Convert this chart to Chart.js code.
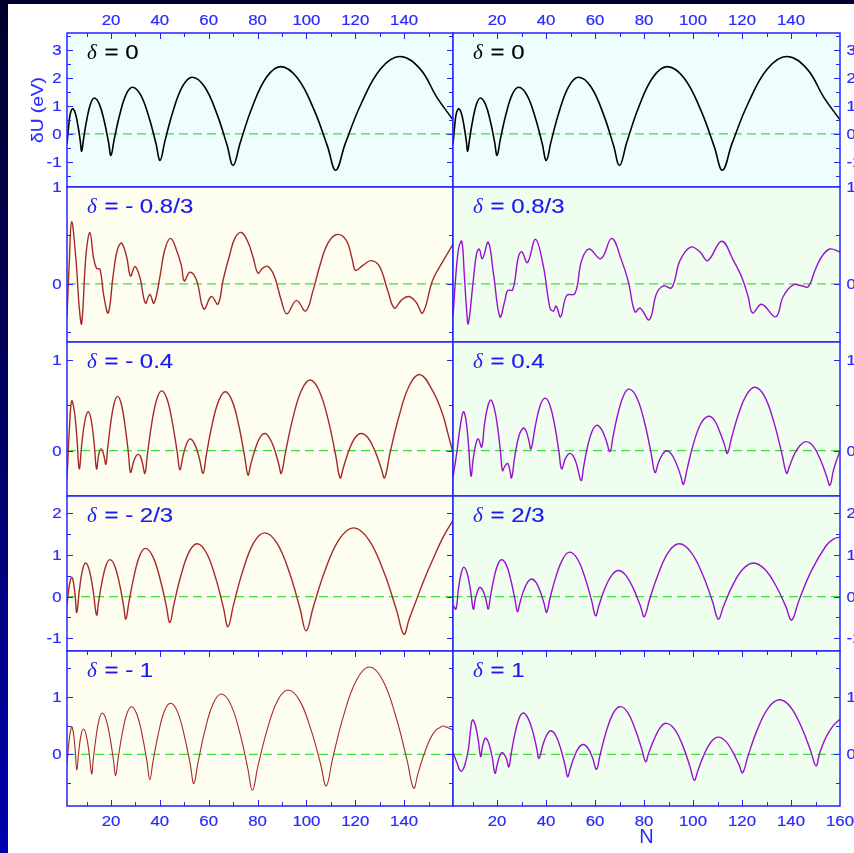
<!DOCTYPE html>
<html>
<head>
<meta charset="utf-8">
<script src="https://cdn.jsdelivr.net/npm/chart.js@4.4.1/dist/chart.umd.min.js"></script>
<style>
html, body { margin:0; padding:0; width:854px; height:853px; overflow:hidden; }
body { position:relative; background: linear-gradient(to bottom, #00002c 0%, #000066 50%, #0000ae 100%); }
#sheet { position:absolute; left:8px; top:4px; width:846px; height:849px; background:#ffffff; }
.layer { position:absolute; left:0; top:0; }
</style>
</head>
<body>
<div id="sheet"></div>
<div id="stage"></div>
<script>
// Shell-correction energy dU (eV) against particle number N, for several deformations delta.

// delta = 0 (same curve in both columns)
const nD0 = [2, 2.6, 3.3, 4.3, 5.41, 6.52, 7.45, 8.0, 8.78, 10.08, 11.64, 13.2, 15.24, 17.28, 18.98, 20.0, 21.32, 23.52, 26.16, 28.8, 32.19, 35.58, 38.4, 40.1, 42.08, 45.38, 49.34, 53.3, 58.31, 63.32, 67.5, 70.0, 72.93, 77.8, 83.65, 89.5, 96.25, 103.0, 108.6, 112.0, 115.9, 122.5, 130.4, 138.3, 146.6, 153.4, 160];
const uD0 = [-0.36, 0.2, 0.7, 0.89, 0.73, 0.27, -0.27, -0.62, -0.18, 0.50, 1.07, 1.28, 1.06, 0.44, -0.29, -0.77, -0.20, 0.66, 1.40, 1.66, 1.38, 0.58, -0.34, -0.95, -0.26, 0.80, 1.70, 2.02, 1.68, 0.72, -0.40, -1.13, -0.31, 0.95, 2.02, 2.40, 2.00, 0.88, -0.44, -1.30, -0.35, 1.09, 2.32, 2.76, 2.31, 1.30, 0.50];

// delta = -0.8/3
const nDm08 = [2, 2.9, 3.9, 5.7, 7.0, 8.0, 9.8, 11.4, 12.8, 14.1, 15.5, 17.1, 18.9, 20.9, 22.6, 24.3, 26.4, 28.0, 29.8, 31.8, 34.1, 35.9, 37.6, 40.0, 42.0, 44.4, 46.8, 48.9, 50.0, 52.3, 55.0, 58.0, 61.1, 63.8, 65.9, 68.6, 70.7, 73.4, 76.1, 78.1, 80.2, 82.0, 84.3, 87.0, 89.7, 92.0, 95.9, 99.7, 102.7, 105.4, 108.8, 112.5, 116.3, 118.7, 120.1, 123.1, 126.5, 129.9, 133.3, 136.0, 138.8, 141.9, 144.9, 147.6, 151.7, 155.8, 160];
const uDm08 = [-0.34, 0.20, 0.64, 0.24, -0.24, -0.41, 0.31, 0.53, 0.28, 0.16, 0.15, -0.13, -0.30, 0.09, 0.35, 0.42, 0.28, 0.08, 0.18, 0.07, -0.20, -0.11, -0.20, 0.07, 0.35, 0.47, 0.35, 0.18, 0.03, 0.12, 0.04, -0.26, -0.13, -0.21, 0.04, 0.30, 0.47, 0.53, 0.43, 0.28, 0.11, 0.16, 0.18, 0.07, -0.17, -0.31, -0.17, -0.28, -0.07, 0.18, 0.42, 0.51, 0.45, 0.26, 0.14, 0.19, 0.24, 0.18, -0.07, -0.25, -0.17, -0.13, -0.19, -0.30, 0.04, 0.23, 0.41];

// delta = 0.8/3
const nDp08 = [2, 3.2, 4.4, 5.6, 6.6, 7.5, 8.25, 10.3, 11.6, 12.7, 14.0, 16.4, 18.5, 21.15, 23.2, 24.3, 26.4, 28.7, 30.1, 32.4, 35.7, 38.9, 41.6, 43.0, 44.1, 45.95, 48.4, 51.8, 54.5, 57.55, 62.4, 66.8, 70.85, 73.6, 76.3, 78.4, 82.15, 85.1, 87.9, 91.3, 94.65, 99.0, 102.8, 106.0, 111.7, 116.5, 119.85, 122.5, 124.3, 128.0, 133.8, 136.8, 140.9, 144.35, 147.0, 149.8, 152.5, 155.9, 160];
const uDp08 = [-0.34, 0.10, 0.38, 0.44, 0.10, -0.25, -0.41, 0.04, 0.31, 0.36, 0.26, 0.43, 0.11, -0.34, -0.17, -0.07, -0.06, 0.28, 0.33, 0.22, 0.46, 0.18, -0.25, -0.28, -0.23, -0.34, -0.12, -0.10, 0.24, 0.36, 0.26, 0.47, 0.24, 0.02, -0.29, -0.25, -0.37, -0.10, -0.02, -0.04, 0.24, 0.38, 0.33, 0.24, 0.44, 0.24, 0.07, -0.13, -0.30, -0.21, -0.34, -0.13, -0.01, -0.02, -0.03, 0.14, 0.28, 0.36, 0.33];

// delta = -0.4
const nDm04 = [2, 3.0, 3.9, 4.99, 6.07, 7.0, 8.11, 9.41, 10.7, 11.89, 13.08, 14.1, 15.0, 15.9, 16.9, 17.9, 18.62, 19.82, 21.26, 22.7, 24.29, 25.88, 27.2, 28.0, 29.28, 30.24, 31.2, 32.01, 32.82, 33.9, 34.92, 36.62, 38.66, 40.7, 42.95, 45.2, 47.08, 48.2, 49.49, 51.0, 52.5, 54.32, 56.14, 57.7, 59.07, 61.34, 64.07, 66.8, 69.59, 72.38, 74.7, 76.1, 77.12, 78.82, 80.86, 82.9, 84.94, 86.98, 88.68, 89.7, 91.49, 94.46, 98.03, 101.6, 105.26, 108.92, 111.97, 113.8, 115.09, 117.24, 119.82, 122.4, 125.28, 128.16, 130.56, 132.0, 134.18, 137.8, 142.15, 146.5, 151.7, 155.8, 158, 160];
const uDm04 = [-0.31, 0.25, 0.55, 0.44, 0.14, -0.20, 0.09, 0.34, 0.43, 0.34, 0.09, -0.20, -0.04, 0.02, -0.03, -0.15, 0.02, 0.29, 0.52, 0.60, 0.51, 0.25, -0.04, -0.24, -0.12, -0.06, -0.04, -0.06, -0.13, -0.25, -0.04, 0.29, 0.56, 0.66, 0.57, 0.30, -0.01, -0.21, -0.06, 0.08, 0.13, 0.07, -0.08, -0.25, -0.04, 0.28, 0.55, 0.65, 0.55, 0.27, -0.06, -0.27, -0.16, 0.00, 0.14, 0.19, 0.14, 0.01, -0.15, -0.25, -0.01, 0.36, 0.67, 0.78, 0.66, 0.34, -0.05, -0.30, -0.19, -0.01, 0.14, 0.19, 0.14, -0.01, -0.19, -0.30, -0.03, 0.37, 0.72, 0.84, 0.66, 0.40, 0.18, -0.02];

// delta = 0.4
const nDp04 = [2.0, 3.5, 4.9, 6.25, 7.35, 8.4, 9.35, 10.25, 11.3, 12.3, 13.7, 14.8, 16.1, 17.4, 18.85, 20.3, 21.5, 22.2, 23.2, 24.3, 25.1, 25.9, 27.3, 29.0, 30.7, 31.8, 32.9, 33.85, 35.6, 37.6, 39.6, 41.6, 43.65, 45.3, 46.35, 48.0, 49.7, 51.1, 52.45, 54.3, 55.25, 56.8, 58.7, 60.6, 62.5, 64.45, 66.1, 67.3, 69.25, 71.65, 74.0, 77.15, 80.3, 82.9, 84.45, 85.9, 87.55, 89.2, 91.25, 93.3, 95.0, 96.05, 97.6, 100.1, 103.2, 106.25, 108.6, 110.9, 112.8, 114.0, 115.7, 118.5, 121.9, 125.3, 129.2, 133.05, 136.25, 138.2, 139.4, 141.35, 143.75, 146.15, 149.05, 152.0, 154.4, 155.9, 157.3, 158.8, 160];
const uDp04 = [-0.29, -0.03, 0.26, 0.43, 0.33, 0.04, -0.28, -0.09, 0.07, 0.13, 0.04, 0.28, 0.48, 0.56, 0.47, 0.24, -0.04, -0.22, -0.17, -0.14, -0.20, -0.30, -0.05, 0.17, 0.25, 0.22, 0.12, 0.02, 0.27, 0.50, 0.58, 0.50, 0.26, -0.02, -0.20, -0.08, -0.03, -0.06, -0.15, -0.33, -0.19, 0.03, 0.21, 0.28, 0.24, 0.12, -0.01, 0.15, 0.40, 0.61, 0.68, 0.58, 0.30, -0.03, -0.24, -0.13, -0.04, 0.00, -0.04, -0.15, -0.28, -0.37, -0.20, 0.07, 0.30, 0.38, 0.34, 0.21, 0.07, -0.03, 0.14, 0.40, 0.62, 0.70, 0.60, 0.31, -0.03, -0.25, -0.17, -0.04, 0.06, 0.10, 0.05, -0.10, -0.27, -0.38, -0.22, -0.09, 0.00];

// delta = -2/3
const nDm23 = [2, 2.9, 3.9, 4.64, 5.37, 6.0, 7.08, 8.34, 9.6, 11.18, 12.75, 14.1, 14.93, 16.3, 17.95, 19.6, 21.55, 23.5, 25.13, 26.1, 27.3, 29.3, 31.7, 34.1, 37.1, 40.1, 42.6, 44.1, 45.78, 48.58, 51.94, 55.3, 59.08, 62.86, 66.01, 67.9, 70.15, 73.9, 78.4, 82.9, 88.0, 93.1, 97.35, 99.9, 102.81, 107.66, 113.48, 119.3, 125.48, 131.66, 136.81, 139.9, 142.0, 144.9, 148.3, 151.7, 155.8, 160];
const uDm23 = [-0.20, 0.25, 0.46, 0.34, 0.00, -0.38, 0.16, 0.63, 0.80, 0.62, 0.12, -0.44, -0.13, 0.34, 0.74, 0.88, 0.73, 0.30, -0.21, -0.54, -0.15, 0.45, 0.97, 1.15, 0.96, 0.42, -0.21, -0.62, -0.18, 0.49, 1.06, 1.26, 1.04, 0.44, -0.26, -0.72, -0.20, 0.60, 1.28, 1.52, 1.27, 0.56, -0.28, -0.82, -0.25, 0.63, 1.37, 1.64, 1.36, 0.59, -0.31, -0.90, -0.55, -0.10, 0.42, 0.88, 1.40, 1.82];

// delta = 2/3
const nDp23 = [2.0, 3.2, 4.15, 5.3, 6.45, 7.8, 9.15, 10.3, 11.1, 12.1, 13.0, 14.2, 15.4, 16.4, 17.2, 18.55, 20.2, 21.85, 23.8, 25.7, 27.3, 28.3, 29.2, 30.6, 32.4, 34.15, 35.95, 37.8, 39.3, 40.2, 41.6, 44.0, 46.85, 49.7, 52.85, 56.0, 58.65, 60.2, 61.6, 63.9, 66.7, 69.45, 72.65, 75.8, 78.5, 80.1, 82.25, 85.8, 90.1, 94.35, 99.15, 103.95, 107.95, 110.3, 112.45, 116.0, 120.3, 124.6, 129.3, 134.0, 137.9, 140.25, 143.2, 148.2, 154.15, 157.25, 160];
const uDp23 = [-0.20, -0.30, 0.15, 0.55, 0.70, 0.55, 0.15, -0.30, -0.06, 0.14, 0.22, 0.14, -0.06, -0.30, -0.03, 0.39, 0.75, 0.88, 0.75, 0.37, -0.07, -0.36, -0.18, 0.10, 0.34, 0.42, 0.33, 0.09, -0.19, -0.38, -0.04, 0.47, 0.90, 1.06, 0.89, 0.43, -0.11, -0.46, -0.21, 0.18, 0.50, 0.62, 0.50, 0.17, -0.22, -0.48, -0.07, 0.54, 1.07, 1.26, 1.06, 0.52, -0.12, -0.54, -0.23, 0.25, 0.65, 0.80, 0.65, 0.24, -0.24, -0.56, -0.10, 0.60, 1.20, 1.37, 1.42];

// delta = -1
const nDm1 = [2, 2.9, 3.9, 4.64, 5.37, 6.0, 6.81, 7.76, 8.7, 9.89, 11.08, 12.1, 12.75, 13.82, 15.11, 16.4, 18.05, 19.7, 21.08, 21.9, 22.88, 24.5, 26.45, 28.4, 30.65, 32.9, 34.78, 35.9, 37.18, 39.3, 41.85, 44.4, 47.25, 50.1, 52.48, 53.9, 55.6, 58.42, 61.81, 65.2, 69.01, 72.82, 75.99, 77.9, 80.09, 83.74, 88.12, 92.5, 97.18, 101.86, 105.76, 108.1, 110.76, 115.18, 120.49, 125.8, 131.23, 136.66, 141.19, 143.9, 145.64, 148.54, 152.02, 155.5, 157.5, 160];
const uDm1 = [-0.16, 0.25, 0.48, 0.37, 0.07, -0.27, 0.05, 0.34, 0.44, 0.33, 0.01, -0.34, -0.09, 0.28, 0.60, 0.72, 0.60, 0.27, -0.12, -0.37, -0.09, 0.34, 0.70, 0.83, 0.69, 0.31, -0.14, -0.44, -0.13, 0.34, 0.75, 0.89, 0.74, 0.31, -0.18, -0.51, -0.15, 0.41, 0.88, 1.05, 0.87, 0.36, -0.24, -0.63, -0.22, 0.40, 0.93, 1.12, 0.94, 0.43, -0.16, -0.55, -0.07, 0.67, 1.29, 1.52, 1.29, 0.65, -0.10, -0.59, -0.34, 0.05, 0.37, 0.49, 0.47, 0.42];

// delta = 1
const nDp1 = [2.0, 3.8, 4.7, 5.6, 6.75, 8.25, 9.15, 9.95, 11.1, 12.3, 13.3, 14.1, 15.3, 16.65, 18.0, 19.15, 20.1, 21.15, 22.2, 23.75, 24.8, 25.7, 27.15, 28.9, 30.65, 32.6, 34.55, 36.15, 37.1, 38.6, 40.3, 42.0, 44.05, 46.1, 47.8, 48.8, 49.8, 51.35, 53.25, 55.15, 57.05, 58.95, 60.6, 62.05, 64.45, 67.3, 70.15, 73.3, 76.45, 79.1, 80.65, 81.95, 84.1, 86.65, 89.2, 92.6, 96.0, 98.8, 100.5, 102.0, 104.45, 107.4, 110.3, 113.3, 116.25, 118.75, 120.25, 122.5, 126.25, 130.75, 135.25, 139.7, 144.2, 147.95, 150.2, 151.7, 154.3, 157.25, 160];
const uDp1 = [0.03, -0.17, -0.27, -0.29, -0.20, 0.08, 0.42, 0.60, 0.51, 0.25, -0.04, 0.15, 0.28, 0.19, -0.05, -0.33, -0.17, -0.02, 0.03, -0.07, -0.22, 0.00, 0.33, 0.62, 0.72, 0.63, 0.40, 0.11, -0.07, 0.15, 0.34, 0.41, 0.32, 0.08, -0.20, -0.39, -0.26, -0.06, 0.11, 0.17, 0.11, -0.06, -0.26, -0.01, 0.38, 0.71, 0.83, 0.73, 0.43, 0.09, -0.13, 0.03, 0.26, 0.47, 0.54, 0.43, 0.13, -0.22, -0.45, -0.28, -0.01, 0.22, 0.30, 0.23, 0.04, -0.18, -0.32, -0.02, 0.43, 0.81, 0.95, 0.83, 0.48, 0.07, -0.20, 0.02, 0.30, 0.50, 0.61];

// Axis values and labels
const nLimits = [2, 160];
const nMajorTicks = [20, 40, 60, 80, 100, 120, 140, 160];
const nMinorTicks = [10, 30, 50, 70, 90, 110, 130, 150];
const uLimits = [[-1.9, 3.6], [-0.6, 1.0], [-0.5, 1.2], [-1.3, 2.4], [-0.9, 1.8]];
const uMajorTicks = [[-1, 0, 1, 2, 3], [0, 1], [0, 1], [-1, 0, 1, 2], [0, 1]];
const uMinorTicks = [[-1.5, -0.5, 0.5, 1.5, 2.5, 3.5], [-0.5, 0.5], [0.5], [-0.5, 0.5, 1.5], [-0.5, 0.5, 1.5]];
const deltaLeft = ['0', '- 0.8/3', '- 0.4', '- 2/3', '- 1'];
const deltaRight = ['0', '0.8/3', '0.4', '2/3', '1'];

// ---- page layout ----
const W = 880, H = 853;
const ROW_EDGES = [33, 187, 342, 496, 651, 806];
const COL_EDGES = [67, 453, 840];
const AXIS = '#2424ff';
const LABEL = '#2a2aff';
const SANS = '"Liberation Sans", Arial, Helvetica, sans-serif';
const SX = 1.2; // wide lettering of the axis text

const seriesGrid = [
  [[nD0, uD0], [nD0, uD0]],
  [[nDm08, uDm08], [nDp08, uDp08]],
  [[nDm04, uDm04], [nDp04, uDp04]],
  [[nDm23, uDm23], [nDp23, uDp23]],
  [[nDm1, uDm1], [nDp1, uDp1]]
];

// text drawn with a horizontal stretch and an optional faint outline
function wideText(ctx, text, x, y, align, sx, weight) {
  ctx.save();
  ctx.translate(x, y);
  ctx.scale(sx, 1);
  ctx.textAlign = align;
  ctx.textBaseline = 'alphabetic';
  ctx.fillText(text, 0, 0);
  if (weight) {
    ctx.strokeStyle = ctx.fillStyle;
    ctx.lineWidth = weight;
    ctx.strokeText(text, 0, 0);
  }
  ctx.restore();
}

const panelFrame = {
  id: 'panelFrame',
  beforeDatasetsDraw(chart, args, o) {
    const { ctx, chartArea: a } = chart;
    ctx.save();
    ctx.fillStyle = o.bg;
    ctx.fillRect(a.left, a.top, a.right - a.left, a.bottom - a.top);
    ctx.restore();
  },
  afterDraw(chart, args, o) {
    const { ctx, chartArea: a, scales: { x, y } } = chart;
    const r = o.row, c = o.col;
    ctx.save();
    ctx.strokeStyle = AXIS;
    ctx.lineWidth = 1;
    const inside = (v, s) => v > s.min + 1e-6 && v < s.max - 1e-6;

    // value ticks, pointing into the panel
    const ySides = c === 0 ? ['L', 'R'] : ['R'];
    const yTick = (v, len) => {
      if (!inside(v, y)) return;
      const py = Math.round(y.getPixelForValue(v)) + 0.5;
      ySides.forEach(s => {
        ctx.beginPath();
        if (s === 'L') { ctx.moveTo(a.left, py); ctx.lineTo(a.left + len, py); }
        else { ctx.moveTo(a.right, py); ctx.lineTo(a.right - len, py); }
        ctx.stroke();
      });
    };
    uMajorTicks[r].forEach(v => yTick(v, 6));
    uMinorTicks[r].forEach(v => yTick(v, 4));

    // N ticks on the outer rows
    const xEdges = r === 0 ? ['T'] : (r === 4 ? ['T', 'B'] : []);
    const xTick = (v, len) => {
      if (!inside(v, x)) return;
      const px = Math.round(x.getPixelForValue(v)) + 0.5;
      xEdges.forEach(s => {
        ctx.beginPath();
        if (s === 'T') { ctx.moveTo(px, a.top); ctx.lineTo(px, a.top + len); }
        else { ctx.moveTo(px, a.bottom); ctx.lineTo(px, a.bottom - len); }
        ctx.stroke();
      });
    };
    nMajorTicks.forEach(v => xTick(v, 6));
    nMinorTicks.forEach(v => xTick(v, 4));

    // frame
    ctx.lineWidth = 1.5;
    ctx.strokeRect(a.left, a.top, a.right - a.left, a.bottom - a.top);

    // value labels
    ctx.fillStyle = LABEL;
    ctx.font = '14px ' + SANS;
    uMajorTicks[r].forEach(v => {
      const py = y.getPixelForValue(v) + 5;
      if (c === 0) wideText(ctx, String(v), a.left - 5.5, py, 'right', SX, 0.2);
      else wideText(ctx, String(v), a.right + 6.5, py, 'left', SX, 0.2);
    });

    // N labels
    if (r === 0 || r === 4) {
      const by = r === 0 ? 25 : 826;
      nMajorTicks.forEach(v => {
        if (v === 160 && !(r === 4 && c === 1)) return;
        wideText(ctx, String(v), x.getPixelForValue(v), by, 'center', SX, 0.2);
      });
    }

    // delta caption
    const tx = a.left + 20, ty = a.top + 26;
    ctx.fillStyle = r === 0 ? '#000000' : '#1a1af0';
    ctx.font = 'italic 21px "Liberation Serif", "Times New Roman", serif';
    ctx.textAlign = 'left';
    ctx.textBaseline = 'alphabetic';
    ctx.fillText('\u03b4', tx, ty);
    ctx.font = '20px ' + SANS;
    wideText(ctx, '= ' + (c === 0 ? deltaLeft[r] : deltaRight[r]), tx + 17.5, ty, 'left', SX, 0.15);
    ctx.restore();
  }
};

const stage = document.getElementById('stage');
for (let r = 0; r < 5; r++) {
  for (let c = 0; c < 2; c++) {
    const [ns, us] = seriesGrid[r][c];
    const canvas = document.createElement('canvas');
    canvas.className = 'layer';
    canvas.width = W; canvas.height = H;
    canvas.style.width = W + 'px'; canvas.style.height = H + 'px';
    stage.appendChild(canvas);
    const left = COL_EDGES[c], right = COL_EDGES[c + 1];
    const top = ROW_EDGES[r], bottom = ROW_EDGES[r + 1];
    const lineColor = r === 0 ? '#000000' : (c === 0 ? '#a42a2a' : '#9a10d0');
    const lineWidth = r === 0 ? 1.6 : (r === 4 && c === 0 ? 1.1 : 1.4);
    const bg = r === 0 ? '#eefefe' : (c === 0 ? '#fefef0' : '#f0fef0');
    new Chart(canvas, {
      type: 'line',
      data: {
        datasets: [
          {
            data: ns.map((n, i) => ({ x: n, y: us[i] })),
            borderColor: lineColor,
            borderWidth: lineWidth,
            pointRadius: 0,
            tension: 0.4,
            fill: false
          },
          {
            data: [{ x: nLimits[0], y: 0 }, { x: nLimits[1], y: 0 }],
            borderColor: '#3ede3e',
            borderWidth: 1.2,
            borderDash: [9, 5],
            pointRadius: 0,
            tension: 0,
            fill: false
          }
        ]
      },
      options: {
        responsive: false,
        animation: false,
        devicePixelRatio: 1,
        layout: { padding: { left: left, right: W - right, top: top, bottom: H - bottom } },
        plugins: {
          legend: { display: false },
          tooltip: { enabled: false },
          panelFrame: { row: r, col: c, bg: bg }
        },
        scales: {
          x: { type: 'linear', min: nLimits[0], max: nLimits[1], display: false },
          y: { type: 'linear', min: uLimits[r][0], max: uLimits[r][1], display: false }
        }
      },
      plugins: [panelFrame]
    });
  }
}

// axis titles
const tcv = document.createElement('canvas');
tcv.className = 'layer';
tcv.width = W; tcv.height = H;
stage.appendChild(tcv);
const tctx = tcv.getContext('2d');
tctx.fillStyle = LABEL;
tctx.save();
tctx.translate(43, 110);
tctx.rotate(-Math.PI / 2);
tctx.font = '16.5px ' + SANS;
wideText(tctx, '\u03b4U (eV)', 0, 0, 'center', 1.16, 0.15);
tctx.restore();
tctx.font = '20px ' + SANS;
tctx.textAlign = 'center';
tctx.fillText('N', 646.5, 843);
</script>
</body>
</html>
